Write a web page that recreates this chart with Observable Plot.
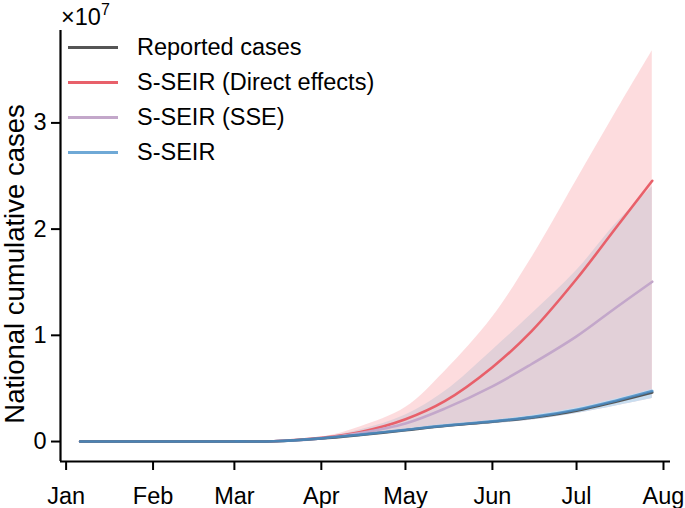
<!DOCTYPE html>
<html>
<head>
<meta charset="utf-8">
<script src="https://cdn.jsdelivr.net/npm/d3@7"></script>
<script src="https://cdn.jsdelivr.net/npm/@observablehq/plot@0.6"></script>
<style>
  html, body { margin: 0; padding: 0; background: white; }
  #wrap { position: relative; width: 685px; height: 508px; font-family: "Liberation Sans", Arial, sans-serif; color: black; }
  #exp { position: absolute; left: 61px; top: 6px; font-size: 23.5px; line-height: 1; }
  #exp sup { font-size: 16px; vertical-align: 0; position: relative; top: -10px; }
  #ytitle { position: absolute; left: 15px; top: 264px; transform: translate(-50%, -50%) rotate(-90deg); white-space: nowrap; font-size: 27.5px; line-height: 1.05; }
  #legend { position: absolute; left: 68px; top: 30px; font-size: 23.5px; }
  .row { display: flex; align-items: center; height: 35px; }
  .sw { width: 50px; height: 3px; margin-right: 19px; }
</style>
</head>
<body>
<div id="wrap"></div>
<script>
// ---- data (values in units of 1e7) ----
const dates = ["2020-01-06","2020-02-01","2020-03-01","2020-03-15","2020-04-01","2020-04-15","2020-05-01","2020-05-15","2020-06-01","2020-06-15","2020-07-01","2020-07-15","2020-07-28"];
const reported   = [0, 0, 0.001, 0.002, 0.028, 0.062, 0.107, 0.147, 0.186, 0.225, 0.29, 0.375, 0.462];
const seir       = [0, 0, 0.001, 0.002, 0.03, 0.065, 0.11, 0.15, 0.19, 0.23, 0.30, 0.385, 0.475];
const seirLo     = [0, 0, 0.001, 0.002, 0.026, 0.057, 0.097, 0.133, 0.168, 0.203, 0.265, 0.335, 0.405];
const seirHi     = [0, 0, 0.001, 0.002, 0.033, 0.071, 0.118, 0.16, 0.201, 0.245, 0.315, 0.40, 0.49];
const direct     = [0, 0, 0.001, 0.003, 0.035, 0.09, 0.21, 0.38, 0.70, 1.04, 1.53, 2.01, 2.455];
const directLo   = [0, 0, 0.001, 0.002, 0.026, 0.057, 0.097, 0.133, 0.168, 0.203, 0.265, 0.335, 0.405];
const directHi   = [0, 0, 0.001, 0.004, 0.04, 0.14, 0.32, 0.66, 1.17, 1.73, 2.46, 3.10, 3.68];
const sse        = [0, 0, 0.001, 0.003, 0.03, 0.08, 0.17, 0.31, 0.52, 0.73, 0.99, 1.26, 1.505];
const sseLo      = [0, 0, 0.001, 0.002, 0.027, 0.058, 0.1, 0.137, 0.172, 0.207, 0.268, 0.34, 0.41];
const sseHi      = [0, 0, 0.001, 0.004, 0.035, 0.11, 0.25, 0.47, 0.86, 1.20, 1.61, 2.05, 2.40];
const monthTicks = ["2020-01-01","2020-02-01","2020-03-01","2020-04-01","2020-05-01","2020-06-01","2020-07-01","2020-08-01"];
const yTicks = [0, 1, 2, 3];
const yTitle = "National cumulative cases";
const seriesNames = ["Reported cases", "S-SEIR (Direct effects)", "S-SEIR (SSE)", "S-SEIR"];
const seriesColors = ["#555555", "#e8606a", "#c3a7ca", "#6fa9d6"];

const parse = d3.utcParse("%Y-%m-%d");
const rows = dates.map((d, i) => ({
  date: parse(d),
  reported: reported[i], seir: seir[i], seirLo: seirLo[i], seirHi: seirHi[i],
  direct: direct[i], directLo: directLo[i], directHi: directHi[i],
  sse: sse[i], sseLo: sseLo[i], sseHi: sseHi[i]
}));
const xDomain = [new Date(Date.UTC(2019, 11, 30)), new Date(Date.UTC(2020, 7, 3, 12))];
const yDomain = [-0.188, 3.87];
const curve = "catmull-rom";

const chart = Plot.plot({
  width: 685,
  height: 508,
  marginLeft: 60,
  marginRight: 15,
  marginTop: 30,
  marginBottom: 47,
  style: { fontFamily: "'Liberation Sans', Arial, sans-serif", fontSize: "23.5px", color: "black", background: "white", overflow: "visible" },
  x: { type: "utc", domain: xDomain },
  y: { domain: yDomain },
  marks: [
    Plot.areaY(rows, { x: "date", y1: "directLo", y2: "directHi", fill: "#f6727b", fillOpacity: 0.25, curve }),
    Plot.areaY(rows, { x: "date", y1: "sseLo", y2: "sseHi", fill: "#e2d0d8", curve }),
    Plot.areaY(rows, { x: "date", y1: "seirLo", y2: "seirHi", fill: "#c9def0", curve }),
    Plot.lineY(rows, { x: "date", y: "direct", stroke: seriesColors[1], strokeWidth: 2.6, curve }),
    Plot.lineY(rows, { x: "date", y: "sse", stroke: seriesColors[2], strokeWidth: 2.6, curve }),
    Plot.lineY(rows, { x: "date", y: "reported", stroke: seriesColors[0], strokeWidth: 2.6, curve }),
    Plot.lineY(rows, { x: "date", y: "seir", stroke: "#4a8cc4", strokeOpacity: 0.85, strokeWidth: 2.6, curve }),
    Plot.ruleX([xDomain[0]], { stroke: "black", strokeWidth: 2.2 }),
    Plot.ruleY([yDomain[0]], { stroke: "black", strokeWidth: 2.2 }),
    Plot.axisX({ ticks: monthTicks.map(parse), tickFormat: d3.utcFormat("%b"), tickSize: 9, tickPadding: 17, strokeWidth: 2, fontSize: 23.5, label: null }),
    Plot.axisY({ ticks: yTicks, tickFormat: d => String(d), tickSize: 9, tickPadding: 5, strokeWidth: 2, fontSize: 23.5, label: null })
  ]
});

const wrap = document.getElementById("wrap");
wrap.appendChild(chart);

const exp = document.createElement("div");
exp.id = "exp";
exp.innerHTML = "×10<sup>7</sup>";
wrap.appendChild(exp);

const yt = document.createElement("div");
yt.id = "ytitle";
yt.textContent = yTitle;
wrap.appendChild(yt);

const legend = document.createElement("div");
legend.id = "legend";
seriesNames.forEach((name, i) => {
  const r = document.createElement("div");
  r.className = "row";
  const sw = document.createElement("span");
  sw.className = "sw";
  sw.style.background = seriesColors[i];
  const t = document.createElement("span");
  t.textContent = name;
  r.appendChild(sw);
  r.appendChild(t);
  legend.appendChild(r);
});
wrap.appendChild(legend);
</script>
</body>
</html>
